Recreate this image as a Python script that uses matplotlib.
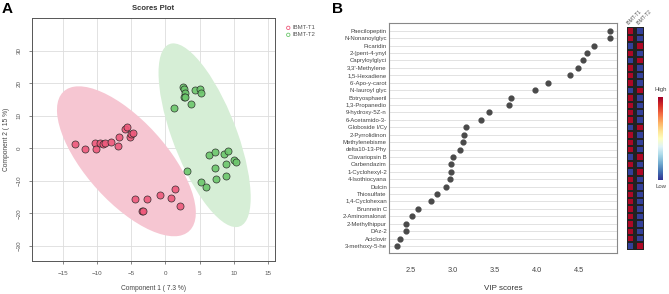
import numpy as np
import matplotlib.pyplot as plt
from matplotlib.patches import Ellipse

plt.rcParams['font.family'] = ['Liberation Sans', 'DejaVu Sans']

# ---- panel A data: PLS-DA scores ----
t1_x = [-13.2, -11.7, -10.25, -10.1, -9.6, -9.2, -8.8, -8.0, -6.9, -6.8, -5.9, -5.55,
        -5.2, -5.1, -4.7, -4.4, -3.4, -3.25, -2.7, -0.8, 0.8, 1.35, 2.1]
t1_y = [1.3, -0.3, 1.7, -0.2, 1.7, 1.2, 1.7, 1.9, 0.8, 3.5, 5.8, 6.6,
        3.6, 4.3, 4.6, -15.7, -19.4, -19.4, -15.7, -14.2, -15.3, -12.6, -17.7]
t2_x = [1.25, 2.6, 2.7, 2.8, 2.7, 2.8, 3.8, 4.3, 5.1, 5.2, 3.1, 5.2,
        5.85, 6.4, 7.2, 7.2, 7.4, 8.6, 8.8, 8.9, 9.2, 10.06, 10.35]
t2_y = [12.3, 18.7, 18.1, 16.9, 15.6, 15.6, 13.6, 17.9, 18.2, 17.1, -7.0, -10.4,
        -11.8, -2.2, -1.0, -6.2, -9.3, -1.6, -4.9, -8.5, -0.9, -3.7, -4.3]

# ---- panel B data: VIP scores ----
features = ["Paecilopeptin", "N-Nonanoylglyc", "Picaridin", "2-(pent-4-ynyl",
            "Capryloylglyci", "3,3'-Methylene", "1,5-Hexadiene", "6'-Apo-y-carot",
            "N-lauroyl glyc", "Botryosphaeril", "1,3-Propanedio", "9-hydroxy-5Z-n",
            "6-Acetamido-3-", "Globoside I/Cy", "2-Pyrrolidinon", "Methylenebisme",
            "delta10-13-Phy", "Clavariopsin B", "Carbendazim", "1-Cyclohexyl-2",
            "4-Isothiocyana", "Dulcin", "Thiosulfate", "1,4-Cyclohexan",
            "Brunnein C", "2-Aminomalonat", "2-Methylhippur", "DAz-2",
            "Aciclovir", "3-methoxy-5-he"]
vip = [4.88, 4.88, 4.68, 4.60, 4.56, 4.49, 4.40, 4.14, 3.98, 3.70, 3.67, 3.43,
       3.34, 3.16, 3.13, 3.12, 3.09, 3.005, 2.98, 2.98, 2.97, 2.92, 2.81, 2.74,
       2.58, 2.51, 2.44, 2.44, 2.37, 2.34]
# 1 = high in T1 (T2 low), 0 = high in T2
t1_high = [1, 1, 0, 1, 0, 1, 1, 1, 0, 1, 1, 1, 1, 0, 1, 1, 1, 0, 1, 0,
           1, 1, 1, 1, 1, 1, 1, 1, 1, 0]
groups = ["IBMT-T1", "IBMT-T2"]

W, H = 669, 294
fig = plt.figure(figsize=(W / 100, H / 100), dpi=100)

def px(l, t, r, b):
    return [l / W, 1 - b / H, (r - l) / W, (b - t) / H]

# ================= panel A =================
ax = fig.add_axes(px(32, 18, 275, 261))
ax.set_axisbelow(True)

def conf_ellipse(x, y, color):
    x, y = np.array(x), np.array(y)
    cov = np.cov(x, y)
    vals, vecs = np.linalg.eigh(cov)
    k = np.sqrt(5.991)
    ang = np.degrees(np.arctan2(vecs[1, 1], vecs[0, 1]))
    e = Ellipse((x.mean(), y.mean()), 2 * k * np.sqrt(vals[1]), 2 * k * np.sqrt(vals[0]),
                angle=ang, facecolor=color, edgecolor='none', zorder=1)
    ax.add_patch(e)

conf_ellipse(t1_x, t1_y, '#F6C6D2')
conf_ellipse(t2_x, t2_y, '#D6EED6')

ax.scatter(t1_x, t1_y, s=26, c='#EE5A7C', edgecolors='#222222', linewidths=0.5, alpha=0.9, zorder=3)
ax.scatter(t2_x, t2_y, s=26, c='#6CC76C', edgecolors='#222222', linewidths=0.5, alpha=0.9, zorder=3)

ax.set_xlim(-19.5, 16)
ax.set_ylim(-34.6, 40)
ax.set_xticks(range(-15, 16, 5))
ax.set_yticks(range(-30, 31, 10))
ax.grid(True, color='#DDDDDD', linewidth=0.6)
ax.tick_params(labelsize=4.5, colors='#555555', length=2.5, width=0.5, pad=5)
for lab in ax.get_yticklabels():
    lab.set_rotation(90)
    lab.set_va('center')
for s in ax.spines.values():
    s.set_color('#555555')
    s.set_linewidth(0.7)
ax.set_xlabel('Component 1 ( 7.3 %)', fontsize=4.8, color='#444444', labelpad=6)
ax.set_ylabel('Component 2 ( 15 %)', fontsize=4.8, color='#444444', labelpad=5)
ax.set_title('Scores Plot', fontsize=5.5, fontweight='bold', color='#333333', pad=6)

h1 = ax.scatter([], [], s=6, facecolors='none', edgecolors='#EE5A7C', linewidths=0.6)
h2 = ax.scatter([], [], s=6, facecolors='none', edgecolors='#6CC76C', linewidths=0.6)
leg = ax.legend([h1, h2], groups, loc='upper left', bbox_to_anchor=(1.03, 0.98),
                frameon=False, fontsize=4.3, handletextpad=0.1, labelspacing=0.3,
                handlelength=1.2, borderaxespad=0)
for t in leg.get_texts():
    t.set_color('#555555')

fig.text(2 / W, 1 - 2 / H, 'A', fontsize=11, fontweight='bold', va='top', ha='left')
fig.text(332 / W, 1 - 2 / H, 'B', fontsize=11, fontweight='bold', va='top', ha='left')

# ================= panel B =================
bx = fig.add_axes(px(389, 23, 617, 253))
rows = np.arange(len(features))
for r in rows:
    bx.axhline(r, color='#DDDDDD', linewidth=0.6, zorder=1)
bx.scatter(vip, rows, s=12, c='#4A4A4A', zorder=3)
bx.set_ylim(len(features) - 0.05, -1.05)
bx.set_xlim(2.24, 4.96)
bx.set_yticks(rows)
bx.set_yticklabels(features)
bx.set_xticks([2.5, 3.0, 3.5, 4.0, 4.5])
bx.set_xticklabels(['2.5', '3.0', '3.5', '4.0', '4.5'])
bx.tick_params(axis='y', labelsize=4.3, colors='#444444', length=0, pad=1.5)
bx.tick_params(axis='x', labelsize=5.3, colors='#444444', length=0, pad=10)
for s in bx.spines.values():
    s.set_color('#888888')
    s.set_linewidth(0.8)
bx.set_xlabel('VIP scores', fontsize=5.8, color='#333333', labelpad=8)

# heatmap of group levels
hx = fig.add_axes(px(626.5, 27.3, 644, 249.9))
hi = np.array(t1_high)
vals = np.column_stack([hi, 1 - hi])
yedges = np.arange(len(features) + 1)
for j, x0 in enumerate([0, 1.3]):
    hx.pcolormesh([x0, x0 + 1], yedges, vals[:, j:j + 1], cmap='RdYlBu_r',
                  vmin=-0.02, vmax=1.02, edgecolors='#222222', linewidth=0.3)
    hx.text(x0 + 0.35, -0.2, groups[j], rotation=45, fontsize=3.6, color='#555555',
            ha='left', va='bottom', rotation_mode='anchor')
hx.set_xlim(0, 2.3)
hx.set_ylim(len(features), 0)
hx.axis('off')

# colour key
cx = fig.add_axes(px(658, 97, 663, 180))
grad = np.linspace(1, 0, 100).reshape(-1, 1)
cx.imshow(grad, aspect='auto', cmap='RdYlBu_r', extent=[0, 1, 0, 1])
cx.set_xticks([])
cx.set_yticks([])
for s in cx.spines.values():
    s.set_visible(False)
fig.text(660.5 / W, 1 - 90 / H, 'High', fontsize=4.3, color='#444444', ha='center', va='center')
fig.text(660.5 / W, 1 - 186 / H, 'Low', fontsize=4.3, color='#444444', ha='center', va='center')

fig.savefig('out.png', dpi=100)
